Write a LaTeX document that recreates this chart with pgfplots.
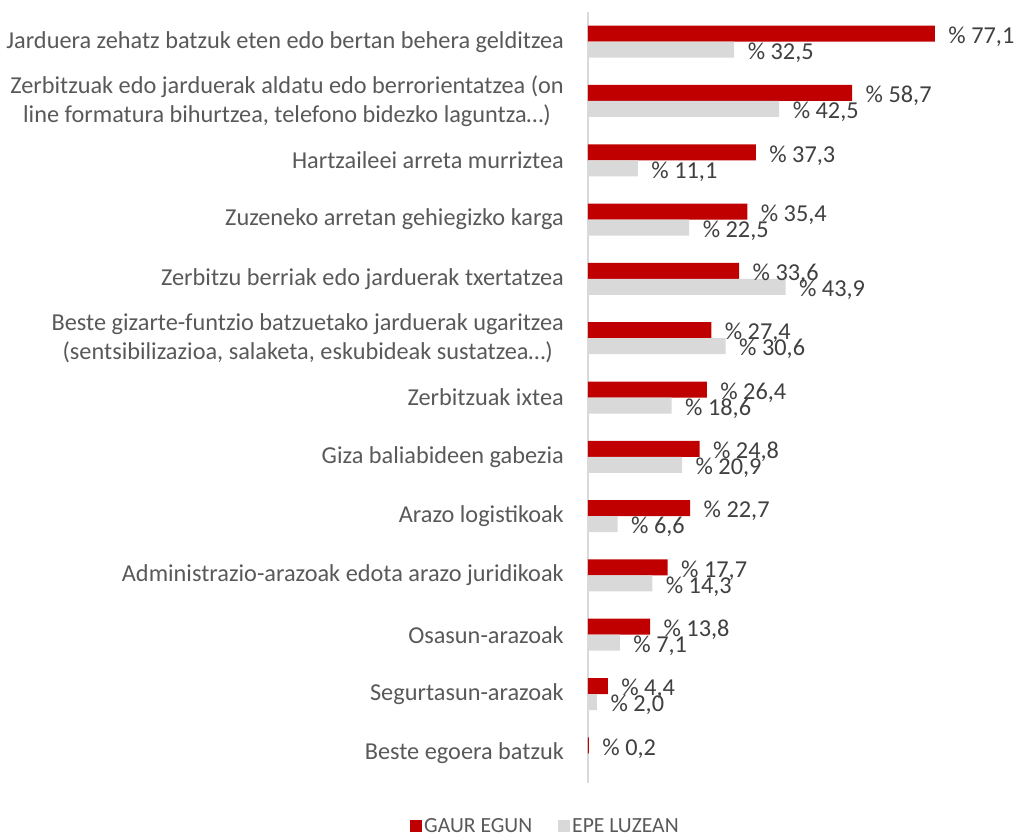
\documentclass[border=0pt]{standalone}
\usepackage{pgfplots}
\pgfplotsset{compat=1.18}
\usepackage{fontspec}
\setmainfont{Carlito}
\definecolor{cred}{HTML}{C00000}
\definecolor{cgray}{HTML}{D9D9D9}
\definecolor{ctext}{HTML}{595959}
\definecolor{clabel}{HTML}{404040}
\begin{document}
\begin{tikzpicture}
\path[use as bounding box] (-588pt,-51pt) rectangle (429pt,783pt);
\begin{axis}[
  at={(0,0)}, anchor=south west,
  scale only axis,
  width=405pt, height=771pt,
  xmin=0, xmax=90,
  ymin=-0.5, ymax=12.5,
  y dir=reverse,
  xbar,
  bar width=16pt,
  axis x line=none,
  axis y line*=left,
  y axis line style={draw=cgray, line width=1.2pt},
  ytick={0,...,12},
  major tick length=0pt,
  yticklabels={
    Jarduera zehatz batzuk eten edo bertan behera gelditzea,
    {Zerbitzuak edo jarduerak aldatu edo berrorientatzea (on\\line formatura bihurtzea, telefono bidezko laguntza…)},
    Hartzaileei arreta murriztea,
    Zuzeneko arretan gehiegizko karga,
    Zerbitzu berriak edo jarduerak txertatzea,
    {Beste gizarte-funtzio batzuetako jarduerak ugaritzea\\(sentsibilizazioa, salaketa, eskubideak sustatzea…)},
    Zerbitzuak ixtea,
    Giza baliabideen gabezia,
    Arazo logistikoak,
    Administrazio-arazoak edota arazo juridikoak,
    Osasun-arazoak,
    Segurtasun-arazoak,
    Beste egoera batzuk},
  yticklabel style={align=center, font=\fontsize{24.3}{29}\selectfont, text=ctext, inner sep=0pt, xshift=-24pt},
  /pgf/number format/assume math mode=true,
  nodes near coords={\%~\pgfmathprintnumber[fixed,fixed zerofill,precision=1,use comma,assume math mode=true]{\pgfplotspointmeta}},
  every node near coord/.append style={font=\fontsize{24.3}{28}\selectfont, text=clabel, anchor=west, xshift=10pt, yshift=-3pt},
  clip=false,
  legend style={at={(-0.105,-0.0558)}, anchor=center, draw=none, fill=none, font=\fontsize{21.6}{24}\selectfont, text=ctext, legend columns=2, /tikz/every even column/.append style={column sep=24pt}, inner sep=0pt},
  legend image code/.code={\fill[#1] (0pt,-6pt) rectangle (12pt,6pt);},
]
\addplot[fill=cred, draw=none, bar shift=8pt] coordinates {
(77.1,0) (58.7,1) (37.3,2) (35.4,3) (33.6,4) (27.4,5) (26.4,6) (24.8,7) (22.7,8) (17.7,9) (13.8,10) (4.4,11) (0.2,12)};
\addplot[fill=cgray, draw=none, bar shift=-8pt] coordinates {
(32.5,0) (42.5,1) (11.1,2) (22.5,3) (43.9,4) (30.6,5) (18.6,6) (20.9,7) (6.6,8) (14.3,9) (7.1,10) (2.0,11)};
\legend{GAUR EGUN, EPE LUZEAN}
\end{axis}
\end{tikzpicture}
\end{document}
